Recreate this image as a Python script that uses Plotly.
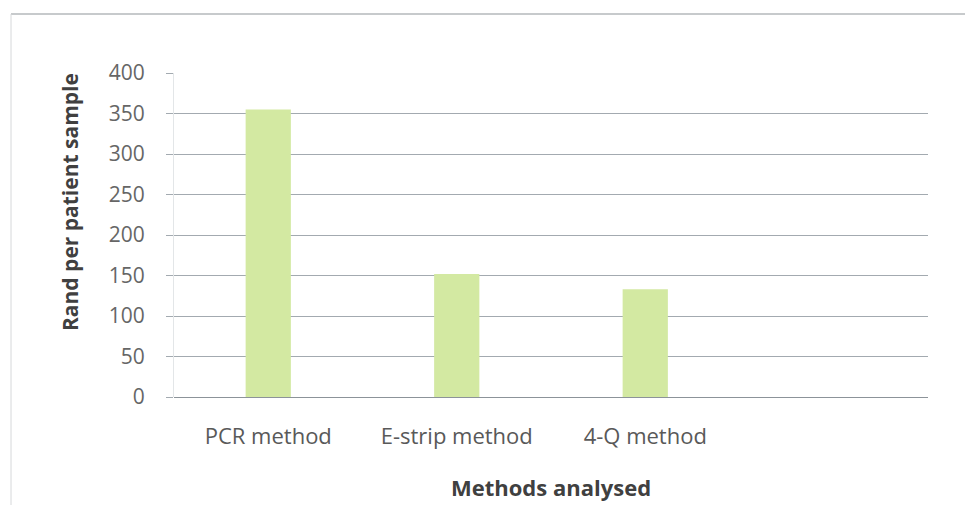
import plotly.graph_objects as go

categories = ["PCR method", "E-strip method", "4-Q method"]
values = [355, 152, 133]
y_ticks = [0, 50, 100, 150, 200, 250, 300, 350, 400]

W, H = 965, 505
L, R, T, B = 174, 928, 73, 397

def px(x):
    return (x - L) / (R - L)

def py(y):
    return (B - y) / (B - T)

fig = go.Figure()
fig.add_trace(go.Bar(
    x=categories, y=values,
    marker=dict(color="#d3e9a2", line=dict(width=0)),
))

fig.update_layout(
    width=W, height=H,
    margin=dict(l=L, r=W - R, t=T, b=H - B),
    paper_bgcolor="white", plot_bgcolor="white",
    bargap=0.76,
    showlegend=False,
    font=dict(family="Open Sans", color="#595959"),
    xaxis=dict(
        type="category",
        range=[-0.5, 3.5],
        showgrid=False,
        showline=False,
        ticks="",
        tickfont=dict(size=22, color="#595959"),
        ticklabelstandoff=24,
        zeroline=False,
    ),
    yaxis=dict(
        range=[0, 400],
        tickvals=y_ticks,
        showgrid=True,
        gridcolor="#a3aab0",
        gridwidth=1,
        zeroline=True,
        zerolinecolor="#8c9399",
        zerolinewidth=1,
        showline=True,
        linecolor="#e3e6e8",
        ticks="outside",
        ticklen=7,
        tickcolor="#a3aab0",
        tickfont=dict(size=21, color="#666666"),
        ticklabelstandoff=17,
    ),
    shapes=[
        dict(type="line", xref="paper", yref="paper",
             x0=px(11), x1=px(W + 5), y0=py(14), y1=py(14),
             line=dict(color="#b5b8bb", width=1.5)),
        dict(type="line", xref="paper", yref="paper",
             x0=px(11), x1=px(11), y0=py(14), y1=py(H + 5),
             line=dict(color="#d6d8da", width=1)),
    ],
    annotations=[
        dict(text="<b>Methods analysed</b>", xref="paper", yref="paper",
             x=px(551), y=py(487), xanchor="center", yanchor="middle",
             showarrow=False, font=dict(size=22, color="#404040", family="Open Sans")),
        dict(text="<b>Rand per patient sample</b>", xref="paper", yref="paper",
             x=px(70), y=py(202), xanchor="center", yanchor="middle",
             textangle=-90, showarrow=False,
             font=dict(size=21, color="#404040", family="Open Sans")),
    ],
)

fig.write_html("out.html")
